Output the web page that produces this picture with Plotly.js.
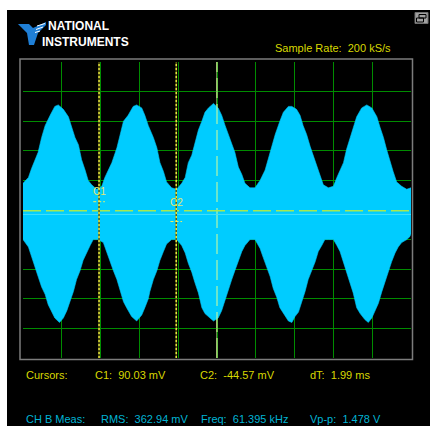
<!DOCTYPE html>
<html>
<head>
<meta charset="utf-8">
<script src="https://cdn.plot.ly/plotly-3.0.1.min.js"></script>
<style>
html,body{margin:0;padding:0;background:#ffffff;width:430px;height:426px;overflow:hidden;}
#chart{position:absolute;left:7px;top:10px;width:423px;height:416px;}
</style>
</head>
<body>
<div id="chart"></div>
<script>
// ---- data (time in ms, voltage in V) ----
const topT = [0,0.14,0.22,0.31,0.39,0.48,0.57,0.70,0.82,0.91,1.04,1.17,1.26,1.34,1.43,1.51,1.60,1.68,1.77,1.90,2.03,2.11,2.20,2.29,2.42,2.50,2.59,2.71,2.84,2.93,3.06,3.14,3.23,3.36,3.45,3.53,3.62,3.70,3.83,3.96,4.09,4.18,4.26,4.35,4.43,4.52,4.61,4.69,4.78,4.91,5.03,5.12,5.21,5.29,5.38,5.46,5.55,5.64,5.72,5.85,5.98,6.11,6.24,6.37,6.50,6.62,6.71,6.84,6.93,7.05,7.14,7.22,7.31,7.40,7.48,7.57,7.66,7.74,7.87,8.00,8.09,8.17,8.26,8.34,8.43,8.51,8.60,8.73,8.86,8.99,9.12,9.20,9.29,9.37,9.46,9.54,9.63,9.76,9.89,10];
const topV = [0.18,0.22,0.28,0.34,0.39,0.49,0.57,0.64,0.70,0.71,0.68,0.63,0.56,0.49,0.44,0.34,0.27,0.20,0.17,0.14,0.16,0.22,0.27,0.32,0.42,0.51,0.60,0.64,0.70,0.71,0.69,0.64,0.57,0.49,0.42,0.32,0.26,0.19,0.15,0.14,0.18,0.22,0.32,0.37,0.46,0.54,0.60,0.66,0.69,0.72,0.69,0.64,0.57,0.51,0.44,0.39,0.29,0.24,0.18,0.15,0.15,0.20,0.27,0.39,0.51,0.60,0.66,0.70,0.70,0.68,0.64,0.57,0.51,0.43,0.37,0.29,0.22,0.17,0.15,0.16,0.22,0.27,0.32,0.41,0.49,0.56,0.63,0.69,0.71,0.69,0.63,0.56,0.49,0.41,0.32,0.26,0.19,0.16,0.14,0.15];
const botT = [0,0.14,0.22,0.31,0.39,0.48,0.57,0.65,0.74,0.82,0.94,1.04,1.13,1.21,1.30,1.38,1.47,1.55,1.64,1.73,1.81,1.94,2.07,2.16,2.24,2.33,2.42,2.50,2.59,2.67,2.80,2.93,3.06,3.14,3.23,3.27,3.36,3.45,3.53,3.62,3.70,3.83,3.96,4.09,4.18,4.26,4.35,4.43,4.52,4.61,4.69,4.82,4.91,5.03,5.12,5.21,5.29,5.38,5.46,5.55,5.64,5.72,5.85,5.98,6.11,6.19,6.28,6.37,6.45,6.54,6.62,6.71,6.84,6.93,7.01,7.10,7.18,7.27,7.35,7.44,7.53,7.61,7.70,7.78,7.87,8.00,8.09,8.17,8.26,8.34,8.43,8.51,8.60,8.69,8.81,8.90,8.99,9.07,9.16,9.25,9.33,9.42,9.50,9.59,9.67,9.76,9.89,9.97,10];
const botV = [-0.20,-0.25,-0.32,-0.39,-0.45,-0.52,-0.57,-0.64,-0.69,-0.73,-0.76,-0.73,-0.68,-0.62,-0.55,-0.47,-0.41,-0.34,-0.29,-0.24,-0.20,-0.20,-0.22,-0.28,-0.34,-0.41,-0.47,-0.54,-0.62,-0.66,-0.72,-0.75,-0.71,-0.66,-0.60,-0.55,-0.47,-0.41,-0.34,-0.28,-0.23,-0.20,-0.20,-0.24,-0.29,-0.36,-0.42,-0.49,-0.56,-0.66,-0.70,-0.73,-0.75,-0.73,-0.68,-0.61,-0.54,-0.47,-0.41,-0.34,-0.28,-0.24,-0.20,-0.20,-0.26,-0.32,-0.39,-0.45,-0.53,-0.59,-0.66,-0.70,-0.75,-0.76,-0.72,-0.69,-0.63,-0.55,-0.47,-0.41,-0.35,-0.28,-0.24,-0.20,-0.20,-0.20,-0.24,-0.28,-0.35,-0.42,-0.49,-0.56,-0.66,-0.70,-0.74,-0.76,-0.73,-0.69,-0.63,-0.55,-0.49,-0.41,-0.35,-0.29,-0.25,-0.22,-0.20,-0.18,-0.16];

// cursors (time ms, level V)
const cursorNames = ["C1","C2"];
const cursorT = [1.96, 3.95];
const cursorLevel = [0.056, -0.078];
const zeroLevel = -0.03;      // channel zero marker
const triggerLevel = -0.005;  // dashed trigger line
const centerT = 5.0;

// grid
const xGrid = [1,2,3,4,5,6,7,8,9];
const yGrid = [-0.8,-0.6,-0.4,-0.2,0,0.2,0.4,0.6,0.8];

// texts
const sampleRateText = "Sample Rate:  200 kS/s";
const cursorRow = ["Cursors:", "C1:  90.03 mV", "C2:  -44.57 mV", "dT:  1.99 ms"];
const measRow = ["CH B Meas:", "RMS:  362.94 mV", "Freq:  61.395 kHz", "Vp-p:  1.478 V"];
const logoLines = ["NATIONAL", "INSTRUMENTS"];

// ---- layout helpers (page pixels -> paper) ----
const PX = x => (x - 23) / 388;
const PY = y => (358 - y) / 296;

const envX = topT.concat(botT.slice().reverse());
const envY = topV.concat(botV.slice().reverse());

const traces = [{
  type: 'scatter', mode: 'lines', x: envX, y: envY,
  fill: 'toself', fillcolor: '#00ccff',
  line: {color: '#00c4f4', width: 0.6}, hoverinfo: 'skip'
}];

const YEL = '#d8d800';
const CYT = '#00b4d4';
const shapes = [];
// frame
shapes.push({type:'rect', xref:'paper', yref:'paper', x0:PX(20), x1:PX(412.5), y0:PY(359.5), y1:PY(59), line:{color:'#7c7c7c', width:1.5}, layer:'above'});
// center vertical line (solid below signal, dashed above)
shapes.push({type:'line', xref:'x', yref:'paper', x0:centerT, x1:centerT, y0:0, y1:1, line:{color:'#d8ff98', width:1}, layer:'below'});
shapes.push({type:'line', xref:'x', yref:'paper', x0:centerT, x1:centerT, y0:0, y1:1, line:{color:'#d8ff98', width:1, dash:'20px,6px'}, layer:'above'});
// zero marker and trigger line
shapes.push({type:'line', xref:'paper', yref:'y', x0:0, x1:1, y0:zeroLevel, y1:zeroLevel, line:{color:'#3fe0ff', width:1}, layer:'above'});
shapes.push({type:'line', xref:'paper', yref:'y', x0:0, x1:1, y0:triggerLevel, y1:triggerLevel, line:{color:'#a8e850', width:1.5, dash:'18px,5px'}, layer:'above'});
// cursors
cursorT.forEach((t, i) => {
  shapes.push({type:'line', xref:'x', yref:'paper', x0:t, x1:t, y0:0, y1:1, line:{color:'#5e5e10', width:1.5}, layer:'above'});
  shapes.push({type:'line', xref:'x', yref:'paper', x0:t, x1:t, y0:0, y1:1, line:{color:'#e4e43c', width:1.5, dash:'2px,2px'}, layer:'above'});
  shapes.push({type:'line', xref:'x', yref:'y', x0:t - 0.15, x1:t + 0.15, y0:cursorLevel[i], y1:cursorLevel[i], line:{color:'#f0f060', width:1, dash:'3px,2px'}, layer:'above'});
});
// NI logo (blue mark)
function pathFrom(pts){ return 'M ' + pts.map(p => PX(p[0]).toFixed(5) + ',' + PY(p[1]).toFixed(5)).join(' L ') + ' Z'; }
shapes.push({type:'path', xref:'paper', yref:'paper', path: pathFrom([[18,24],[29,24],[33,28],[46,22],[46,25],[38,33],[34,45],[29,45],[27,33]]), fillcolor:'#1f7fd6', line:{width:0}, layer:'above'});
[[37,26,45,23.5],[36,29.5,43,27],[35,32.5,40,31]].forEach(s => {
  shapes.push({type:'line', xref:'paper', yref:'paper', x0:PX(s[0]), x1:PX(s[2]), y0:PY(s[1]), y1:PY(s[3]), line:{color:'#ffffff', width:1}, layer:'above'});
});
// restore icon top-right
shapes.push({type:'rect', xref:'paper', yref:'paper', x0:PX(415), x1:PX(428), y0:PY(23.5), y1:PY(12.5), fillcolor:'#a0a0a0', line:{color:'#707070', width:1}, layer:'above'});
shapes.push({type:'rect', xref:'paper', yref:'paper', x0:PX(419), x1:PX(426), y0:PY(18), y1:PY(14.5), line:{color:'#000', width:1}, layer:'above'});
shapes.push({type:'rect', xref:'paper', yref:'paper', x0:PX(416.5), x1:PX(423.5), y0:PY(22), y1:PY(18), line:{color:'#000', width:1}, layer:'above'});

const FONT = 'Liberation Sans, Arial, sans-serif';
const ann = [];
function addText(text, x, y, color, size, extra){
  ann.push(Object.assign({text:text, xref:'paper', yref:'paper', x:PX(x), y:PY(y), xanchor:'left', yanchor:'middle', showarrow:false, font:{family:FONT, size:size, color:color}, borderpad:0}, extra||{}));
}
addText(sampleRateText, 274, 48, YEL, 11);
const rowX = [25, 94, 199, 309];
cursorRow.forEach((s, i) => addText(s, rowX[i], 375, YEL, 11));
const measX = [25, 100, 200, 309];
measRow.forEach((s, i) => addText(s, measX[i], 419, CYT, 11));
// logo words as one two-line text
ann.push({text:'<b>\u2002' + logoLines[0] + '</b><br><b>' + logoLines[1] + '</b>', xref:'paper', yref:'paper', x:PX(41), y:PY(33.5), xanchor:'left', yanchor:'middle', align:'left', showarrow:false, font:{family:FONT, size:12, color:'#ffffff'}, borderpad:0});
// cursor labels
cursorNames.forEach((n, i) => {
  const yPix = [191, 202][i];
  ann.push({text:n, xref:'x', yref:'paper', x:cursorT[i], y:PY(yPix), xanchor:'center', yanchor:'middle', showarrow:false, font:{family:FONT, size:10, color:'#e0e870'}, borderpad:0});
});

const layout = {
  width: 423, height: 416,
  margin: {l:16, r:19, t:52, b:68, pad:0},
  paper_bgcolor: '#000000', plot_bgcolor: '#000000',
  showlegend: false,
  xaxis: {range:[0,10], tickmode:'array', tickvals:xGrid, showticklabels:false, ticks:'', showgrid:true, gridcolor:'#008c00', gridwidth:1, zeroline:false, showline:false, fixedrange:true},
  yaxis: {range:[-1,1], tickmode:'array', tickvals:yGrid, showticklabels:false, ticks:'', showgrid:true, gridcolor:'#008c00', gridwidth:1, zeroline:false, showline:false, fixedrange:true},
  shapes: shapes,
  annotations: ann
};

Plotly.newPlot('chart', traces, layout, {displayModeBar:false, staticPlot:true});
</script>
</body>
</html>
